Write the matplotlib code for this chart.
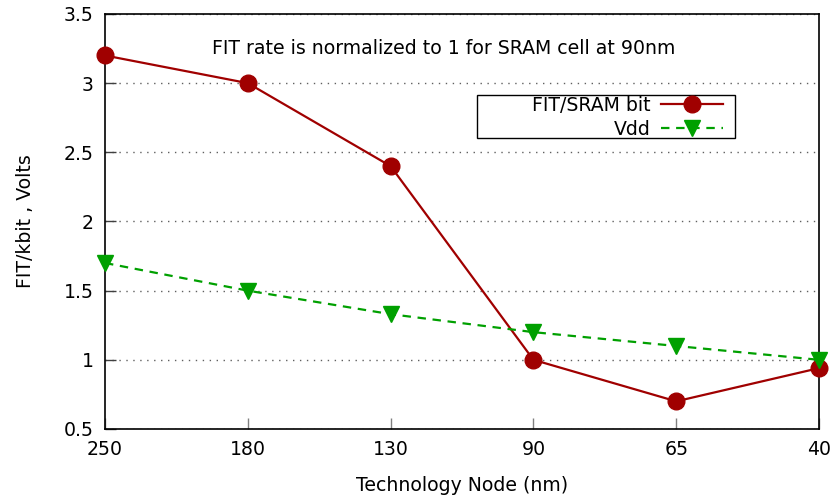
import matplotlib
matplotlib.use('Agg')
import matplotlib.pyplot as plt
from matplotlib.patches import Rectangle

matplotlib.rc('font', family='DejaVu Sans', size=13.6)

nodes = ['250', '180', '130', '90', '65', '40']
fit_sram = [3.2, 3.0, 2.4, 1.0, 0.7, 0.94]
vdd = [1.7, 1.5, 1.33, 1.2, 1.1, 1.0]

fig = plt.figure(figsize=(8.32, 4.99), dpi=100)
ax = fig.add_axes([0.1262, 0.1403, 0.8582, 0.8317])

x = range(len(nodes))
ax.plot(x, fit_sram, color='#a00000', lw=1.6, marker='o', ms=12,
        label='FIT/SRAM bit', clip_on=False, zorder=3)
ax.plot(x, vdd, color='#00a000', lw=1.6, ls=(0, (3.8, 3)), marker='v', ms=12,
        label='Vdd', clip_on=False, zorder=3)

ax.set_xlim(0, len(nodes) - 1)
ax.set_ylim(0.5, 3.5)
ax.set_xticks(list(x))
ax.set_xticklabels(nodes)
ax.set_yticks([0.5, 1, 1.5, 2, 2.5, 3, 3.5])
ax.set_yticklabels(['0.5', '1', '1.5', '2', '2.5', '3', '3.5'])
ax.tick_params(direction='in', length=8, width=1, pad=8)
ax.tick_params(axis='x', color='#808080')
ax.tick_params(axis='y', color='#404040')
ax.yaxis.grid(True, ls=(0, (1, 4)), color='#606060', lw=1)
for s in ax.spines.values():
    s.set_linewidth(1.2)

ax.set_xlabel('Technology Node (nm)', labelpad=12)
ax.set_ylabel('FIT/kbit , Volts', labelpad=21)

ax.text(0.475, 0.918, 'FIT rate is normalized to 1 for SRAM cell at 90nm',
        transform=ax.transAxes, ha='center', va='center')

# key box drawn separately so the text can sit right-aligned with padding on the left
ax.add_patch(Rectangle((0.521, 0.701), 0.361, 0.104, transform=ax.transAxes,
                       fill=True, facecolor='white', edgecolor='black', lw=1, zorder=4))
leg = ax.legend(loc='center right', bbox_to_anchor=(0.866, 0.751), markerfirst=False,
                frameon=False, borderpad=0, labelspacing=0.25, handlelength=3.3,
                handletextpad=0.55, borderaxespad=0)
leg.set_zorder(5)
for col in leg._legend_handle_box.get_children():
    col.align = 'right'

fig.savefig('out.png', dpi=100)
